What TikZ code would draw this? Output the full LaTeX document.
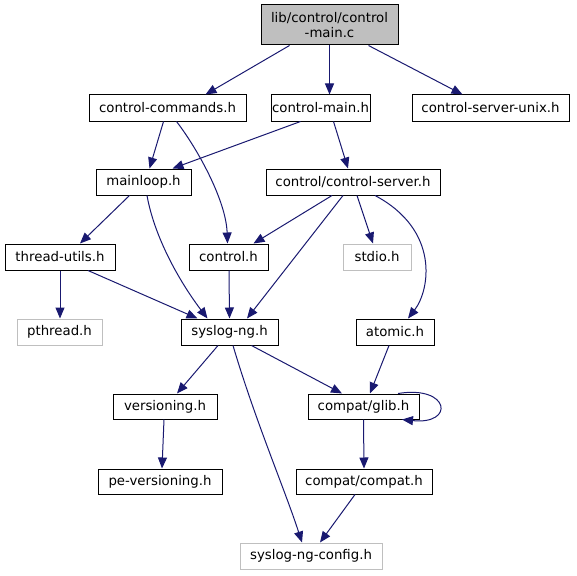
\documentclass[tikz,border=0pt]{standalone}
\usepackage{fontspec}
\setmainfont{DejaVu Sans}
\usetikzlibrary{arrows.meta}
\definecolor{edgec}{HTML}{191970}
\definecolor{grayb}{HTML}{BFBFBF}
\tikzset{
  box/.style={draw=black, line width=1pt, inner sep=0pt, font=\fontsize{13.3}{15.5}\selectfont, align=center},
  gbox/.style={box, draw=grayb},
  edge/.style={draw=edgec, line width=1pt, -{Triangle[length=11pt,width=9pt]}},
}
\begin{document}
\begin{tikzpicture}[x=1pt,y=-1pt]
\useasboundingbox (0,0) rectangle (577,575);
\node[box, fill=grayb, minimum width=137, minimum height=40] (root) at (329.5,25) {lib/control/control\\-main.c};
\node[box, minimum width=157, minimum height=26] (cc) at (167.5,108) {control-commands.h};
\node[box, minimum width=99, minimum height=26] (cm) at (320.5,108) {control-main.h};
\node[box, minimum width=157, minimum height=26] (csu) at (490.5,108) {control-server-unix.h};
\node[box, minimum width=95, minimum height=26] (ml) at (143.5,182) {mainloop.h};
\node[box, minimum width=174, minimum height=26] (cs) at (353,182) {control/control-server.h};
\node[box, minimum width=110, minimum height=26] (tu) at (60,257) {thread-utils.h};
\node[box, minimum width=79, minimum height=26] (ctl) at (228.5,257) {control.h};
\node[gbox, minimum width=68, minimum height=26] (stdio) at (377,257) {stdio.h};
\node[gbox, minimum width=85, minimum height=26] (pth) at (59.5,332) {pthread.h};
\node[box, minimum width=97, minimum height=26] (sng) at (229.5,332) {syslog-ng.h};
\node[box, minimum width=78, minimum height=26] (atom) at (395,332) {atomic.h};
\node[box, minimum width=104, minimum height=25] (ver) at (165,406.5) {versioning.h};
\node[box, minimum width=111, minimum height=25] (glib) at (363.5,406.5) {compat/glib.h};
\node[box, minimum width=124, minimum height=25] (pe) at (160,481.5) {pe-versioning.h};
\node[box, minimum width=136, minimum height=25] (cmp) at (364,481.5) {compat/compat.h};
\node[gbox, minimum width=142, minimum height=26] (cfg) at (311,556) {syslog-ng-config.h};

\draw[edge] ([xshift=-40]root.south) -- ([xshift=38]cc.north);
\draw[edge] (root.south) -- ([xshift=9]cm.north);
\draw[edge] ([xshift=39]root.south) -- ([xshift=-28]csu.north);
\draw[edge] ([xshift=-4]cc.south) -- ([xshift=6]ml.north);
\draw[edge] ([xshift=9]cc.south) .. controls (197,148) and (226,200) .. ([xshift=-1]ctl.north);
\draw[edge] ([xshift=-20]cm.south) -- ([xshift=29]ml.north);
\draw[edge] ([xshift=13]cm.south) -- ([xshift=-5]cs.north);
\draw[edge] ([xshift=-14]ml.south) -- ([xshift=20]tu.north);
\draw[edge] ([xshift=3.5]ml.south) .. controls (155,240) and (182,285) .. ([xshift=-22]sng.north);
\draw[edge] ([xshift=-21]cs.south) -- ([xshift=25]ctl.north);
\draw[edge] ([xshift=-10]cs.south) -- ([xshift=17.5]sng.north);
\draw[edge] ([xshift=4]cs.south) -- ([xshift=-4]stdio.north);
\draw[edge] ([xshift=22]cs.south) .. controls (440,230) and (430,290) .. ([xshift=13]atom.north);
\draw[edge] (tu.south) -- ([xshift=0.5]pth.north);
\draw[edge] ([xshift=28]tu.south) -- ([xshift=-32]sng.north);
\draw[edge] ([xshift=0.5]ctl.south) -- (sng.north);
\draw[edge] ([xshift=-11.5]sng.south) -- ([xshift=12]ver.north);
\draw[edge] ([xshift=22]sng.south) -- ([xshift=-21.5]glib.north);
\draw[edge] ([xshift=3.5]sng.south) .. controls (255,420) and (285,490) .. ([xshift=-9]cfg.north);
\draw[edge] ([xshift=-6]atom.south) -- ([xshift=6.5]glib.north);
\draw[edge] ([xshift=34.5]glib.north) .. controls (450,385) and (455,425) .. ([xshift=38.5]glib.south);
\draw[edge] (glib.south) -- (cmp.north);
\draw[edge] ([xshift=-1]ver.south) -- ([xshift=2]pe.north);
\draw[edge] ([xshift=-9]cmp.south) -- ([xshift=9]cfg.north);
\end{tikzpicture}
\end{document}
